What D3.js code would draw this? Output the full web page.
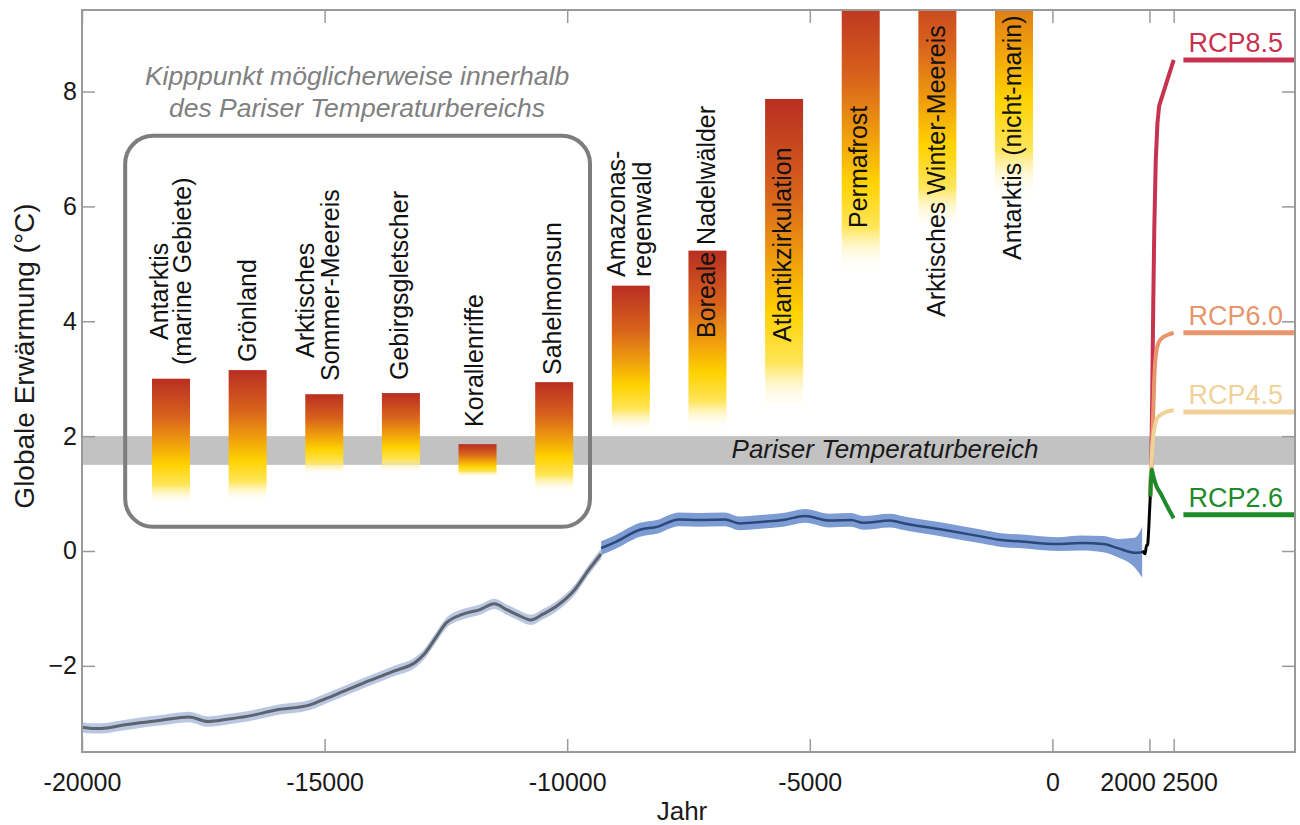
<!DOCTYPE html>
<html><head><meta charset="utf-8">
<script src="https://cdn.jsdelivr.net/npm/d3@7"></script>
<style>
body{margin:0;background:#fff}
svg{display:block}
text{font-family:"Liberation Sans",Arial,Helvetica,sans-serif}
</style>
</head><body>
<svg id="chart" width="1300" height="825"></svg>
<script>
// ---------------- DATA ----------------
const xTickYears = [-20000, -15000, -10000, -5000, 0, 2000, 2500];
const yTickTemps = [-2, 0, 2, 4, 6, 8];
const parisRange = [1.5, 2.0];

const tippingNames = ["Antarktis (marine Gebiete)", "Grönland", "Arktisches Sommer-Meereis", "Gebirgsgletscher",
  "Korallenriffe", "Sahelmonsun", "Amazonas-regenwald", "Boreale Nadelwälder", "Atlantikzirkulation",
  "Permafrost", "Arktisches Winter-Meereis", "Antarktis (nicht-marin)"];
const tippingLabelLines = [["Antarktis", "(marine Gebiete)"], ["Grönland"], ["Arktisches", "Sommer-Meereis"],
  ["Gebirgsgletscher"], ["Korallenriffe"], ["Sahelmonsun"], ["Amazonas-", "regenwald"], ["Boreale Nadelwälder"],
  ["Atlantikzirkulation"], ["Permafrost"], ["Arktisches Winter-Meereis"], ["Antarktis (nicht-marin)"]];
const tippingLow  = [0.80, 0.84, 1.32, 1.36, 1.29, 1.01, 2.06, 2.11, 2.40, 4.86, 5.59, 6.11];
const tippingHigh = [3.00, 3.15, 2.73, 2.75, 1.86, 2.94, 4.62, 5.23, 7.87, 9.70, 10.20, 11.60];

// Glacial reconstruction (grey line)
const glacialYears = [-20000,-19800,-19600,-19200,-18800,-18400,-17800,-17400,-17000,-16600,-16000,-15300,-15000,
  -14600,-14200,-13600,-13100,-12950,-12700,-12500,-12150,-11800,-11500,-11250,-11000,-10750,-10500,-10200,-9850,-9550,-9300];
const glacialTemps = [-3.07,-3.09,-3.09,-3.04,-2.99,-2.95,-2.89,-2.97,-2.93,-2.88,-2.77,-2.68,-2.58,
  -2.44,-2.30,-2.10,-1.92,-1.80,-1.50,-1.26,-1.10,-1.02,-0.92,-1.02,-1.12,-1.20,-1.10,-0.95,-0.68,-0.32,-0.05];
const glacialSigma = [0.09,0.09,0.09,0.09,0.09,0.09,0.09,0.09,0.09,0.09,0.09,0.09,0.09,
  0.09,0.09,0.09,0.09,0.09,0.09,0.09,0.09,0.09,0.09,0.09,0.09,0.09,0.09,0.09,0.09,0.09,0.09];

// Holocene reconstruction (blue line)
const holoceneYears = [-9300,-9000,-8500,-8150,-7700,-7300,-6750,-6450,-5950,-5550,-5100,-4600,-4150,-3900,
  -3350,-3050,-2250,-1450,-1050,-700,100,600,1050,1350,1700,1850];
const holoceneTemps = [0.05,0.16,0.37,0.42,0.55,0.54,0.55,0.48,0.51,0.54,0.61,0.53,0.54,0.49,
  0.53,0.48,0.37,0.25,0.19,0.17,0.12,0.14,0.12,0.05,-0.03,-0.02];
const holoceneSigma = [0.12,0.12,0.12,0.12,0.12,0.12,0.12,0.12,0.12,0.12,0.12,0.12,0.12,0.12,
  0.12,0.12,0.12,0.12,0.12,0.12,0.12,0.13,0.14,0.16,0.26,0.44];

// Instrumental (black)
const instrumentalYears = [1850, 1880, 1910, 1940, 1960, 1980, 2000, 2017];
const instrumentalTemps = [0.00, -0.02, -0.05, 0.10, 0.10, 0.30, 0.65, 0.95];

// Scenarios
const rcpNames = ["RCP8.5", "RCP6.0", "RCP4.5", "RCP2.6"];
const rcp85Years = [2017, 2040, 2060, 2080, 2100, 2130, 2165, 2200, 2500];
const rcp85Temps = [0.95, 1.6, 2.9, 4.4, 5.6, 6.8, 7.45, 7.75, 8.55];
const rcp60Years = [2017, 2040, 2070, 2100, 2130, 2185, 2250, 2370, 2500];
const rcp60Temps = [0.95, 1.5, 2.2, 3.0, 3.4, 3.62, 3.70, 3.76, 3.80];
const rcp45Years = [2017, 2040, 2080, 2120, 2165, 2290, 2500];
const rcp45Temps = [0.95, 1.5, 2.0, 2.2, 2.32, 2.40, 2.45];
const rcp26Years = [2017, 2030, 2050, 2080, 2150, 2225, 2370, 2500];
const rcp26Temps = [0.95, 1.2, 1.42, 1.3, 1.12, 1.01, 0.77, 0.57];
const rcpLevels = [8.55, 3.80, 2.42, 0.63];
const levelYears = [2700, 5000];

// ---------------- LAYOUT / STYLE ----------------
const M = {left: 82, right: 1295, top: 10, bottom: 752};
const rcpColors = ["#c7324f", "#e8956b", "#f0d197", "#1e8a2a"];
const rcpCurves = [d3.curveLinear, d3.curveMonotoneX, d3.curveMonotoneX, d3.curveMonotoneX];
const labelLayout = [[[-11, 340], [12, 365]], [[0, 362]], [[-18, 358], [7, 381]], [[-1, 380]], [[-3, 427]],
  [[-1, 375]], [[-14, 277], [12, 277]], [[0, 338]], [[-1, 342]], [[-2, 228]], [[0, 317]], [[-1, 260]]];

const svg = d3.select("#chart");
const x = d3.scaleLinear().domain([-20000, 5000]).range([M.left, M.right]);
const y = d3.scaleLinear().domain([-3.5, 9.42]).range([M.bottom, M.top]);
const barX = d3.scalePoint().domain(tippingNames).range([171, 1014]);
const barW = 38;

const defs = svg.append("defs");
defs.append("clipPath").attr("id", "plotclip").append("rect")
  .attr("x", M.left).attr("y", M.top).attr("width", M.right - M.left).attr("height", M.bottom - M.top);
const grad = defs.append("linearGradient").attr("id", "tipgrad").attr("x1", 0).attr("y1", 0).attr("x2", 0).attr("y2", 1);
[[0, "#b92e22", 1], [0.3, "#d8621c", 1], [0.52, "#f0a10c", 1], [0.68, "#ffd200", 1], [0.84, "#ffe55a", 1], [1, "#ffffff", 0]]
  .forEach(s => grad.append("stop").attr("offset", s[0]).attr("stop-color", s[1]).attr("stop-opacity", s[2]));

const plot = svg.append("g").attr("clip-path", "url(#plotclip)");

// Paris band
plot.append("rect")
  .attr("x", M.left).attr("width", M.right - M.left)
  .attr("y", y(parisRange[1])).attr("height", y(parisRange[0]) - y(parisRange[1]))
  .attr("fill", "#c2c2c2");

// box
const boxYears = [-19110, -9530], boxTemps = [0.42, 7.23];
plot.append("rect")
  .attr("x", x(boxYears[0])).attr("y", y(boxTemps[1]))
  .attr("width", x(boxYears[1]) - x(boxYears[0])).attr("height", y(boxTemps[0]) - y(boxTemps[1]))
  .attr("rx", 28).attr("ry", 28)
  .attr("fill", "none").attr("stroke", "#7d7d7d").attr("stroke-width", 4);

// tipping bars
plot.selectAll("rect.tip").data(tippingNames).join("rect").attr("class", "tip")
  .attr("x", d => barX(d) - barW / 2).attr("width", barW)
  .attr("y", (d, i) => y(tippingHigh[i]))
  .attr("height", (d, i) => y(tippingLow[i]) - y(tippingHigh[i]))
  .attr("fill", "url(#tipgrad)");

// labels
tippingNames.forEach((name, i) => {
  tippingLabelLines[i].forEach((line, j) => {
    const [dx, by] = labelLayout[i][j];
    const cx = barX(name) + dx + 8;
    svg.append("text")
      .attr("transform", `translate(${cx},${by}) rotate(-90)`)
      .attr("text-anchor", "start")
      .attr("font-size", 25).attr("fill", "#111")
      .text(line);
  });
});

// box title
svg.append("text").attr("x", 357).attr("y", 85).attr("text-anchor", "middle")
  .attr("font-size", 26.5).attr("font-style", "italic").attr("fill", "#808080")
  .text("Kipppunkt möglicherweise innerhalb");
svg.append("text").attr("x", 357).attr("y", 117).attr("text-anchor", "middle")
  .attr("font-size", 26.5).attr("font-style", "italic").attr("fill", "#808080")
  .text("des Pariser Temperaturbereichs");

// Paris label
svg.append("text").attr("x", 885).attr("y", 458).attr("text-anchor", "middle")
  .attr("font-size", 26).attr("font-style", "italic").attr("fill", "#1a1a1a")
  .text("Pariser Temperaturbereich");

// temperature reconstructions
const zip3 = (a, b, c) => a.map((v, i) => [v, b[i], c ? c[i] : 0]);
const glacial = zip3(glacialYears, glacialTemps, glacialSigma);
const holocene = zip3(holoceneYears, holoceneTemps, holoceneSigma);
const area = d3.area().x(d => x(d[0])).y0(d => y(d[1] - d[2])).y1(d => y(d[1] + d[2])).curve(d3.curveMonotoneX);
const line = d3.line().x(d => x(d[0])).y(d => y(d[1])).curve(d3.curveMonotoneX);

plot.append("path").datum(glacial).attr("d", area).attr("fill", "#bac7e0");
plot.append("path").datum(glacial).attr("d", line).attr("fill", "none").attr("stroke", "#5c636e").attr("stroke-width", 3);
plot.append("path").datum(holocene).attr("d", area).attr("fill", "#7e9cd4");
plot.append("path").datum(holocene).attr("d", line).attr("fill", "none").attr("stroke", "#2a4878").attr("stroke-width", 2.5);

// scenarios
const rcpSeries = [zip3(rcp85Years, rcp85Temps), zip3(rcp60Years, rcp60Temps), zip3(rcp45Years, rcp45Temps), zip3(rcp26Years, rcp26Temps)];
rcpSeries.forEach((s, i) => {
  const l = d3.line().x(d => x(d[0])).y(d => y(d[1])).curve(rcpCurves[i]);
  plot.append("path").datum(s).attr("d", l).attr("fill", "none")
    .attr("stroke", rcpColors[i]).attr("stroke-width", 4).attr("stroke-linejoin", "round");
});
plot.append("path").datum(zip3(instrumentalYears, instrumentalTemps)).attr("d", line)
  .attr("fill", "none").attr("stroke", "#000").attr("stroke-width", 3);

rcpNames.forEach((n, i) => {
  plot.append("line").attr("x1", x(levelYears[0])).attr("x2", x(levelYears[1]))
    .attr("y1", y(rcpLevels[i])).attr("y2", y(rcpLevels[i]))
    .attr("stroke", rcpColors[i]).attr("stroke-width", 5);
  svg.append("text").attr("x", x(levelYears[0]) + 5).attr("y", y(rcpLevels[i]) - 8)
    .attr("font-size", 27).attr("fill", rcpColors[i]).text(n);
});

// axes
const axisColor = "#9a9a9a";
const gx = svg.append("g").attr("transform", `translate(0,${M.bottom})`)
  .call(d3.axisBottom(x).tickValues(xTickYears).tickFormat(d => String(d)).tickSize(-13).tickPadding(21));
const gxTop = svg.append("g").attr("transform", `translate(0,${M.top})`)
  .call(d3.axisTop(x).tickValues(xTickYears).tickFormat("").tickSize(-13));
const gy = svg.append("g").attr("transform", `translate(${M.left},0)`)
  .call(d3.axisLeft(y).tickValues(yTickTemps).tickFormat(d3.format("d")).tickSize(-13).tickPadding(5));
const gyR = svg.append("g").attr("transform", `translate(${M.right},0)`)
  .call(d3.axisRight(y).tickValues(yTickTemps).tickFormat("").tickSize(-13));
[gx, gxTop, gy, gyR].forEach(g => {
  g.select(".domain").remove();
  g.selectAll(".tick line").attr("stroke", axisColor).attr("stroke-width", 1.5);
  g.selectAll(".tick text").attr("font-size", 25).attr("fill", "#1a1a1a")
    .attr("font-family", '"Liberation Sans",Arial,sans-serif');
});
gx.selectAll(".tick text").attr("text-anchor", d => d === 2000 ? "end" : (d === 2500 ? "start" : "middle"))
  .attr("dx", d => d === 2000 ? 6 : (d === 2500 ? -12 : 0));
svg.append("rect").attr("x", M.left).attr("y", M.top).attr("width", M.right - M.left).attr("height", M.bottom - M.top)
  .attr("fill", "none").attr("stroke", axisColor).attr("stroke-width", 2);

// axis titles
svg.append("text").attr("transform", `translate(34,356) rotate(-90)`).attr("text-anchor", "middle")
  .attr("font-size", 28).attr("fill", "#1a1a1a").text("Globale Erwärmung (°C)");
svg.append("text").attr("x", 682).attr("y", 820).attr("text-anchor", "middle")
  .attr("font-size", 26).attr("fill", "#1a1a1a").text("Jahr");
</script>
</body></html>
